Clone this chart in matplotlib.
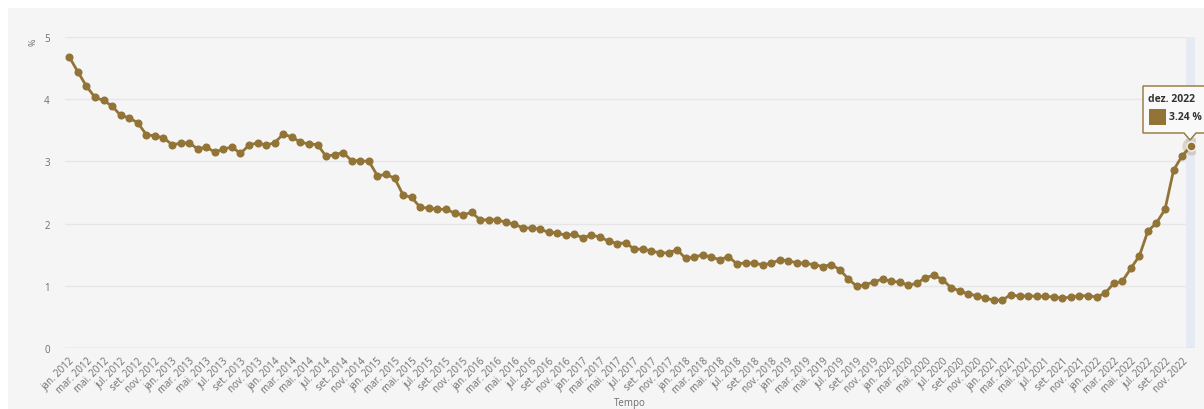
import matplotlib
matplotlib.use('Agg')
import matplotlib.pyplot as plt
import numpy as np
from matplotlib.patches import Rectangle, Polygon

plt.rcParams['font.family'] = ['Open Sans', 'DejaVu Sans']

# monthly values, jan. 2012 .. dez. 2022
month_names = ['jan.', 'fev.', 'mar.', 'abr.', 'mai.', 'jun.',
               'jul.', 'ago.', 'set.', 'out.', 'nov.', 'dez.']
years = list(range(2012, 2023))
values = [
    4.68, 4.44, 4.21, 4.03, 3.98, 3.89, 3.74, 3.70, 3.62, 3.43, 3.41, 3.38,
    3.27, 3.29, 3.30, 3.20, 3.23, 3.15, 3.20, 3.23, 3.13, 3.26, 3.30, 3.26,
    3.30, 3.44, 3.39, 3.31, 3.28, 3.27, 3.08, 3.11, 3.14, 3.01, 3.01, 3.00,
    2.77, 2.79, 2.73, 2.46, 2.42, 2.26, 2.25, 2.23, 2.23, 2.17, 2.14, 2.18,
    2.06, 2.06, 2.06, 2.02, 1.99, 1.93, 1.93, 1.91, 1.86, 1.85, 1.81, 1.83,
    1.77, 1.82, 1.78, 1.72, 1.68, 1.69, 1.59, 1.59, 1.56, 1.53, 1.53, 1.58,
    1.44, 1.46, 1.50, 1.46, 1.42, 1.47, 1.35, 1.37, 1.36, 1.34, 1.36, 1.42,
    1.40, 1.37, 1.36, 1.34, 1.31, 1.34, 1.26, 1.11, 0.99, 1.02, 1.06, 1.11,
    1.07, 1.06, 1.01, 1.04, 1.13, 1.17, 1.10, 0.97, 0.92, 0.87, 0.84, 0.80,
    0.77, 0.77, 0.86, 0.83, 0.84, 0.83, 0.83, 0.82, 0.80, 0.82, 0.84, 0.84,
    0.82, 0.88, 1.04, 1.07, 1.28, 1.48, 1.88, 2.01, 2.23, 2.86, 3.09, 3.24,
]
labels = ['%s %d' % (m, y) for y in years for m in month_names]

W, H = 1204, 410
color = '#937437'
grey = '#6e6e6e'

fig = plt.figure(figsize=(W / 100, H / 100), dpi=100, facecolor='white')
# grey panel behind the chart
fig.add_artist(Rectangle((8 / W, 0), 1, 1 - 9 / H, transform=fig.transFigure,
                         facecolor='#f5f5f5', edgecolor='none', zorder=0))

ax = fig.add_axes([65 / W, 61 / H, 1130 / W, 311 / H])
ax.set_facecolor('none')

x = np.arange(len(values))
ax.axvspan(x[-1] - 0.5, x[-1] + 0.5, color='#e6eaf2', zorder=1, lw=0)

ax.plot(x, values, color=color, lw=2, marker='o', ms=4.8, zorder=3)
# hover halo on the last point
ax.plot(x[-1], values[-1], 'o', ms=13, color=color, alpha=0.25, zorder=3, mec='none')
ax.plot(x[-1], values[-1], 'o', ms=6.5, color=color, zorder=4, mec='#f5f5f5', mew=1)

ax.set_xlim(-0.5, len(values) - 0.5)
ax.set_ylim(0, 5)
ax.set_yticks(range(6))
ax.yaxis.grid(True, color='#e6e6e6', lw=1)
ax.set_axisbelow(True)
for s in ax.spines.values():
    s.set_visible(False)
ax.axhline(0, color='#ccd6eb', lw=1, zorder=2)

ax.set_xticks(x[::2])
ax.set_xticklabels(labels[::2], rotation=45, ha='right', rotation_mode='anchor',
                   fontsize=7, color=grey)
ax.tick_params(axis='x', length=0, pad=5)
ax.tick_params(axis='y', length=0, pad=11, labelsize=7, labelcolor=grey)
ax.set_xlabel('Tempo', fontsize=7, color=grey, labelpad=1)
fig.text(33 / W, 1 - 42 / H, '%', rotation=90, fontsize=6.5, color=grey,
         ha='center', va='center')

# tooltip
bx0, by0, bx1, by1 = 1143, 87, 1210, 134
tipx, tipy = 1190, 141
pts = [(bx0, by0), (bx1, by0), (bx1, by1), (tipx + 6, by1), (tipx, tipy),
       (tipx - 6, by1), (bx0, by1)]
fig.add_artist(Polygon([(px / W, 1 - py / H) for px, py in pts], closed=True,
                       transform=fig.transFigure, facecolor='#f9f9f9',
                       edgecolor=color, lw=1, zorder=10))
fig.text(1148 / W, 1 - 99 / H, labels[-1], fontsize=7.5, fontweight='bold',
         color='#333333', ha='left', va='center', zorder=11)
fig.add_artist(Rectangle((1149 / W, 1 - 126 / H), 17 / W, 16 / H,
                         transform=fig.transFigure, facecolor=color,
                         edgecolor='none', zorder=11))
fig.text(1169 / W, 1 - 118 / H, '%.2f %%' % values[-1], fontsize=7.5,
         fontweight='bold', color='#333333', ha='left', va='center', zorder=11)

fig.savefig('out.png', dpi=100, facecolor='white')
